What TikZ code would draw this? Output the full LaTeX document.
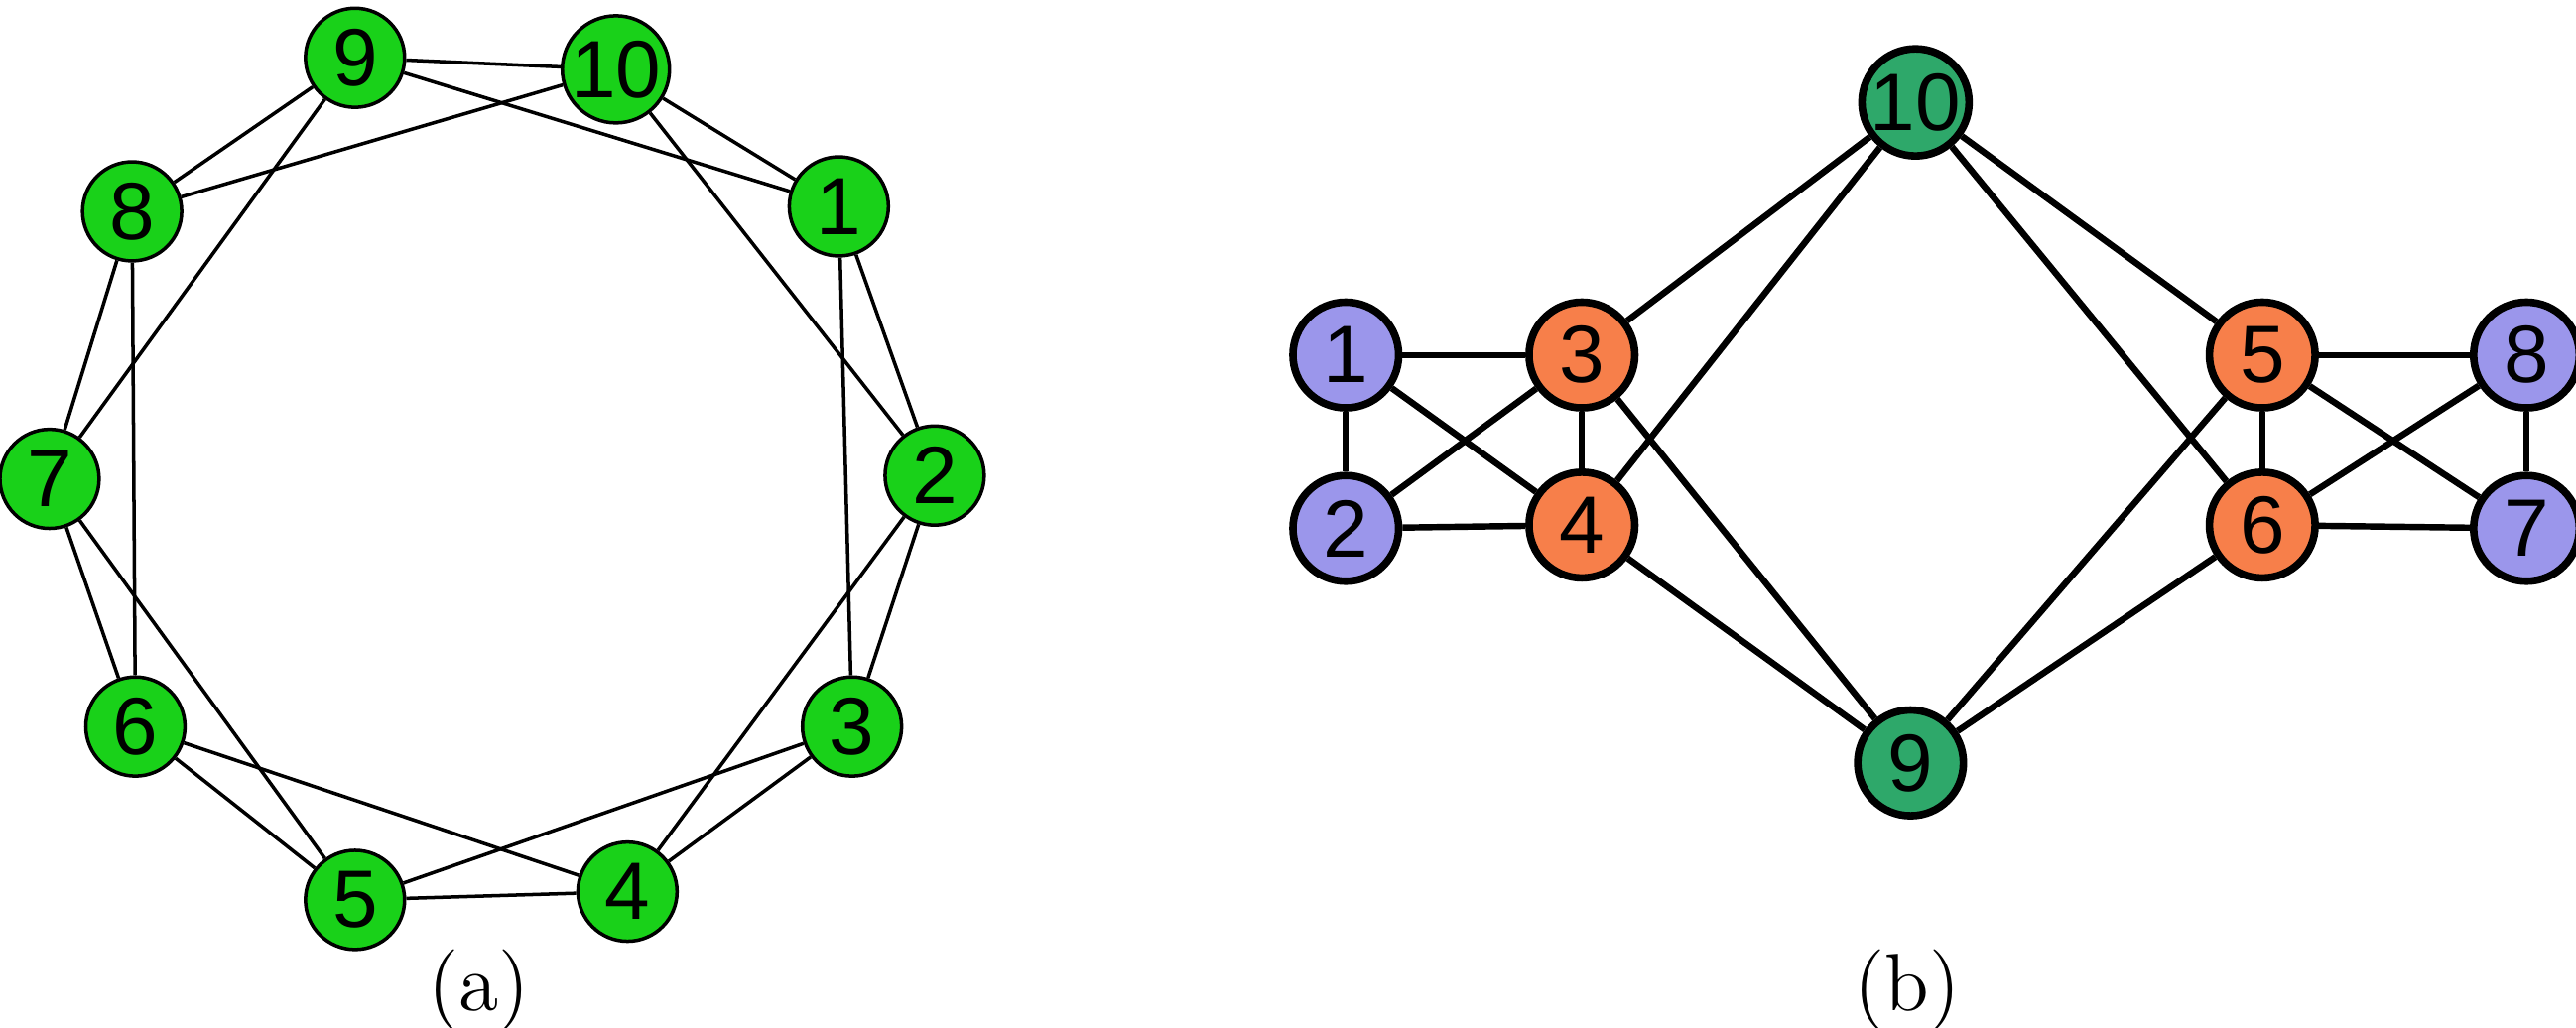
\documentclass[tikz,border=0pt]{standalone}
\usepackage{fontspec}
\setmainfont{Liberation Sans}
\newfontfamily\serifa{Latin Modern Roman}
\begin{document}
\begin{tikzpicture}[x=0.01cm,y=-0.01cm,
  ga/.style={circle,draw=black,line width=0.6pt,fill=green!80!black!90,minimum size=0.6cm,inner sep=0pt,font=\fontsize{14}{14}\selectfont},
  gb/.style={circle,draw=black,line width=1.3pt,minimum size=0.64cm,inner sep=0pt,font=\fontsize{14}{14}\selectfont},
  pu/.style={gb,fill={rgb,255:red,155;green,150;blue,235}},
  orn/.style={gb,fill={rgb,255:red,247;green,127;blue,74}},
  dg/.style={gb,fill={rgb,255:red,46;green,168;blue,106}},
  ea/.style={line width=0.6pt},
  eb/.style={line width=1.1pt}]
\useasboundingbox (0,0) rectangle (1560,622);
% left
\node[ga] (a9) at (215,35) {9};
\node[ga] (a10) at (373,42) {10};
\node[ga] (a1) at (508,125) {1};
\node[ga] (a2) at (566,288) {2};
\node[ga] (a3) at (516,440) {3};
\node[ga] (a4) at (380,540) {4};
\node[ga] (a5) at (215,545) {5};
\node[ga] (a6) at (82,440) {6};
\node[ga] (a7) at (30,290) {7};
\node[ga] (a8) at (80,128) {8};
\foreach \u/\v in {9/10,9/1,9/8,9/7,10/1,10/8,10/2,1/2,1/3,2/3,2/4,3/4,3/5,4/5,4/6,5/6,5/7,6/7,6/8,7/8}
  \draw[ea] (a\u) -- (a\v);
\node[font=\serifa\fontsize{14}{14}\selectfont] (la) at (290,600) {(a)};
% right
\node[pu] (b1) at (815,215) {1};
\node[pu] (b2) at (815,320) {2};
\node[orn] (b3) at (958,215) {3};
\node[orn] (b4) at (958,318) {4};
\node[dg] (b10) at (1160,62) {10};
\node[dg] (b9) at (1157,462) {9};
\node[orn] (b5) at (1370,215) {5};
\node[orn] (b6) at (1370,318) {6};
\node[pu] (b8) at (1530,215) {8};
\node[pu] (b7) at (1530,320) {7};
\foreach \u/\v in {1/3,1/2,1/4,2/3,2/4,3/4,3/10,4/10,3/9,4/9,10/5,10/6,9/5,9/6,5/6,5/8,5/7,6/8,6/7,8/7}
  \draw[eb] (b\u) -- (b\v);
\node[font=\serifa\fontsize{14}{14}\selectfont] (lb) at (1155,600) {(b)};
\end{tikzpicture}
\end{document}
